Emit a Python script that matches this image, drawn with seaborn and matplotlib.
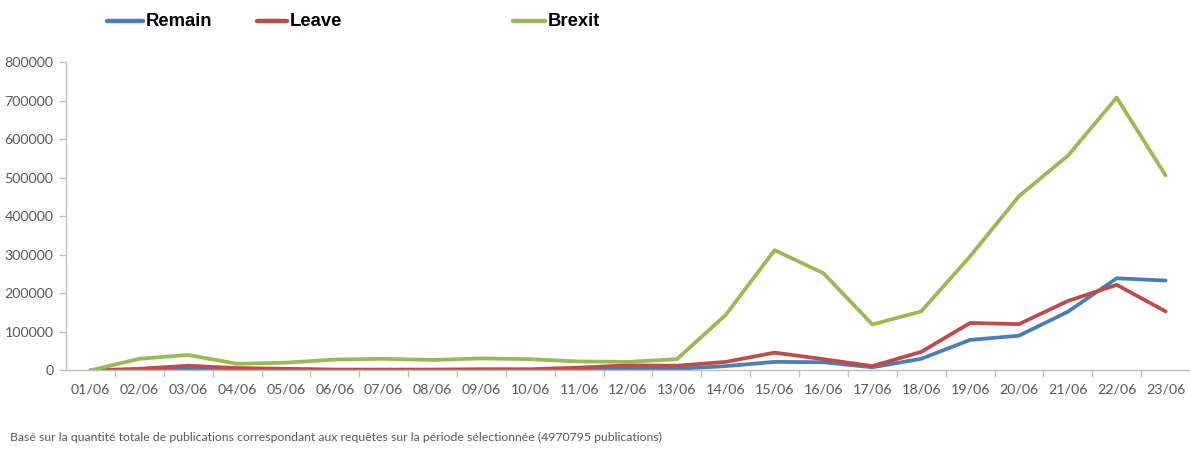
import numpy as np
import pandas as pd
import seaborn as sns
import matplotlib.pyplot as plt
from matplotlib.lines import Line2D

# data
days = ['01/06', '02/06', '03/06', '04/06', '05/06', '06/06', '07/06', '08/06',
        '09/06', '10/06', '11/06', '12/06', '13/06', '14/06', '15/06', '16/06',
        '17/06', '18/06', '19/06', '20/06', '21/06', '22/06', '23/06']
remain = [0, 2000, 5000, 2000, 2000, 1000, 1000, 1000, 1000, 1000, 3000, 6000,
          4000, 11000, 22000, 21000, 8000, 30000, 79000, 90000, 152000, 239000, 233000]
leave = [0, 4000, 12000, 6000, 4000, 2000, 2000, 2000, 3000, 3000, 7000, 13000,
         12000, 22000, 46000, 29000, 11000, 48000, 123000, 120000, 180000, 222000, 153000]
brexit = [0, 30000, 40000, 17000, 20000, 28000, 30000, 27000, 31000, 29000, 23000, 22000,
          29000, 144000, 312000, 252000, 119000, 153000, 296000, 452000, 557000, 708000, 506000]

series = ['Remain', 'Leave', 'Brexit']
colors = {'Remain': '#4a7ebb', 'Leave': '#be4b48', 'Brexit': '#98b954'}

df = pd.DataFrame({'day': np.arange(len(days)), 'Remain': remain, 'Leave': leave, 'Brexit': brexit})
long_df = df.melt(id_vars='day', value_vars=series, var_name='serie', value_name='count')

sns.set_style('white')
plt.rcParams['font.family'] = ['Lato', 'DejaVu Sans']

fig = plt.figure(figsize=(11.9, 4.5), dpi=100)
ax = fig.add_axes([0.0555, 0.177, 0.9445, 0.685])

sns.lineplot(data=long_df, x='day', y='count', hue='serie', hue_order=series,
             palette=colors, linewidth=2.7, legend=False, ax=ax)

ax.set_xlim(-0.5, 22.38)
ax.set_ylim(0, 800000)
ax.set_yticks(np.arange(0, 800001, 100000))
ax.set_yticklabels([str(v) for v in range(0, 800001, 100000)])
ax.set_xticks(np.arange(len(days)))
ax.set_xticklabels(days)
ax.set_xticks(np.arange(len(days)) + 0.5, minor=True)
ax.set_xlabel('')
ax.set_ylabel('')

for side in ['top', 'right']:
    ax.spines[side].set_visible(False)
for side in ['left', 'bottom']:
    ax.spines[side].set_color('#bfbfbf')
    ax.spines[side].set_linewidth(1.0)

ax.tick_params(axis='y', which='major', left=True, length=5, width=1, color='#bfbfbf',
               labelsize=10.3, labelcolor='#595959', pad=4)
ax.tick_params(axis='x', which='major', bottom=False, labelsize=10.3, labelcolor='#595959', pad=6)
ax.tick_params(axis='x', which='minor', bottom=True, length=5, width=1, color='#bfbfbf')

# legend drawn across the top
legend_items = [('Remain', 107, 143, 146), ('Leave', 257, 287, 290), ('Brexit', 513, 545, 548)]
for name, x0, x1, xt in legend_items:
    fig.lines.append(Line2D([x0 / 1190, x1 / 1190], [1 - 21 / 450, 1 - 21 / 450],
                            transform=fig.transFigure, color=colors[name], linewidth=3.2))
    fig.text(xt / 1190, 1 - 21 / 450, name, fontsize=13.3, fontweight='bold', color='black',
             family=['Liberation Sans', 'DejaVu Sans'], va='center', ha='left')

fig.text(10 / 1190, 1 - 437 / 450,
         'Basé sur la quantité totale de publications correspondant aux requêtes sur la période sélectionnée (4970795 publications)',
         fontsize=8.8, color='#595959', va='center', ha='left')

fig.savefig('out.png', dpi=100)
